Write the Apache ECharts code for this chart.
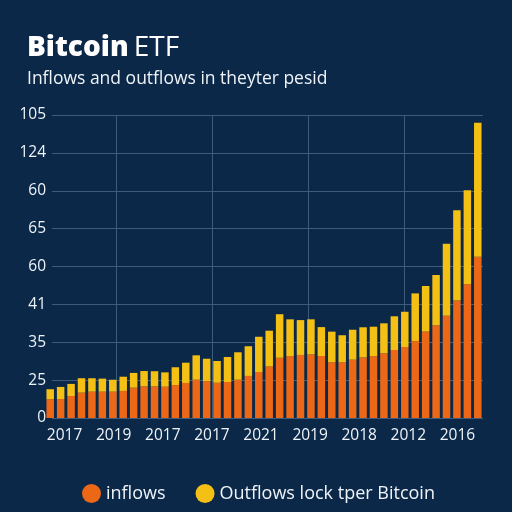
<!DOCTYPE html>
<html>
<head>
<meta charset="utf-8">
<script src="https://cdn.jsdelivr.net/npm/echarts@6/dist/echarts.min.js"></script>
<style>
  html, body { margin: 0; padding: 0; background: #0b2848; }
  #chart { width: 512px; height: 512px; }
</style>
</head>
<body>
<div id="chart"></div>
<script>
// bar values (same unit as the hidden bar axis)
const inflows = [9.9, 10.0, 11.6, 13.4, 13.9, 13.9, 13.9, 14.3, 16.0, 16.7,
  16.7, 16.5, 17.4, 18.5, 20.2, 19.5, 18.6, 19.0, 20.2, 22.2,
  24.3, 27.2, 31.8, 32.7, 33.3, 33.6, 32.7, 29.4, 29.4, 30.8,
  32.0, 32.7, 34.2, 35.9, 37.5, 40.7, 45.6, 48.9, 54.0, 62.1,
  70.6, 85.2]
const outflows = [5.3, 6.4, 6.4, 7.6, 7.1, 6.9, 6.3, 7.5, 7.8, 8.1,
  8.0, 7.6, 9.4, 10.7, 12.9, 11.8, 11.5, 13.2, 14.5, 15.7,
  18.6, 18.9, 23.0, 19.4, 18.4, 18.5, 15.3, 16.2, 14.3, 15.8,
  15.9, 15.5, 15.8, 17.8, 18.6, 25.1, 24.1, 26.6, 38.0, 47.6,
  49.6, 70.7]
const bars = inflows.map((v, i) => 'b' + i)
const xLabels = ['2017', '2019', '2017', '2017', '2021', '2019', '2018', '2012', '2016']
const yLabels = ['0', '25', '35', '41', '60', '65', '60', '124', '105']

const chart = echarts.init(document.getElementById('chart'))
const lineColor = '#3c5c7e'
const txt = '#eef3f8'
const font = 'Open Sans'

chart.setOption({
  backgroundColor: '#0b2848',
  animation: false,
  title: {
    left: 22,
    top: 29,
    text: '{b|Bitcoin} {r|ETF}',
    textStyle: {
      rich: {
        b: { fontFamily: font, fontSize: 28, fontWeight: 800, color: '#ffffff' },
        r: { fontFamily: font, fontSize: 28, fontWeight: 'normal', color: '#ffffff' }
      }
    },
    subtext: 'Inflows and outflows in theyter pesid',
    subtextStyle: { fontFamily: font, fontSize: 17.5, color: txt },
    itemGap: 8
  },
  legend: {
    left: 77,
    top: 479,
    icon: 'circle',
    itemWidth: 19,
    itemHeight: 19,
    itemGap: 30,
    textStyle: { fontFamily: font, fontSize: 18, color: txt },
    data: ['inflows', 'Outflows lock tper Bitcoin']
  },
  grid: [
    { left: 45, right: 29, top: 115, bottom: 94 },    // bars
    { left: 52, right: 29, top: 115, bottom: 94 },    // y labels + horizontal lines
    { left: 40, right: 30, top: 115, bottom: 94 },    // x labels
    { left: 116.5, right: 107.5, top: 115, bottom: 94 } // vertical lines
  ],
  xAxis: [
    { gridIndex: 0, type: 'category', data: bars, show: false },
    { gridIndex: 1, type: 'value', show: false },
    {
      gridIndex: 2, type: 'category', data: xLabels,
      axisLine: { show: false }, axisTick: { show: false },
      axisLabel: { color: txt, fontFamily: font, fontSize: 15.5, margin: 10, interval: 0 }
    },
    {
      gridIndex: 3, type: 'value', min: 0, max: 3, interval: 1,
      axisLine: { show: false }, axisTick: { show: false }, axisLabel: { show: false },
      splitLine: { show: true, lineStyle: { color: lineColor, width: 1 } }
    }
  ],
  yAxis: [
    { gridIndex: 0, type: 'value', min: 0, max: 160, show: false },
    {
      gridIndex: 1, type: 'value', min: 0, max: 8, interval: 1,
      axisLine: { show: false }, axisTick: { show: false },
      axisLabel: {
        color: txt, fontFamily: font, fontSize: 15.5, margin: 6,
        formatter: v => yLabels[v]
      },
      splitLine: { show: true, lineStyle: { color: lineColor, width: 1 } }
    },
    { gridIndex: 2, type: 'value', show: false },
    { gridIndex: 3, type: 'value', show: false }
  ],
  series: [
    {
      name: 'inflows', type: 'bar', stack: 'flow', xAxisIndex: 0, yAxisIndex: 0,
      barWidth: 7.5, itemStyle: { color: '#ec6816' }, data: inflows
    },
    {
      name: 'Outflows lock tper Bitcoin', type: 'bar', stack: 'flow', xAxisIndex: 0, yAxisIndex: 0,
      barWidth: 7.5, itemStyle: { color: '#f5c014' }, data: outflows
    }
  ]
})
</script>
</body>
</html>
